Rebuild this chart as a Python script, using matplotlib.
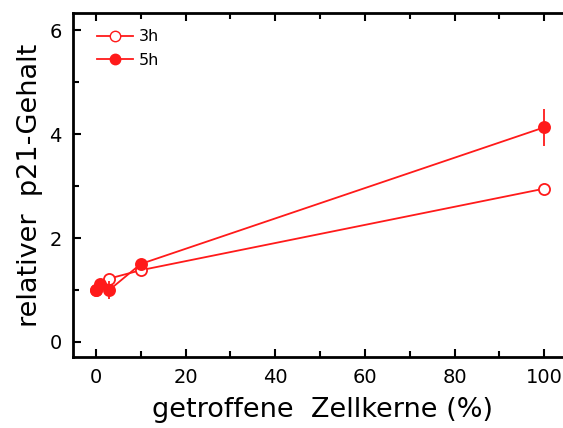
import matplotlib
matplotlib.use("Agg")
import matplotlib.pyplot as plt
from matplotlib.ticker import MultipleLocator
from matplotlib.lines import Line2D

x3 = [0, 3, 10, 100]
y3 = [1.0, 1.22, 1.38, 2.95]
e3 = [0.0, 0.05, 0.04, 0.05]

x5 = [0, 1, 3, 10, 100]
y5 = [1.0, 1.12, 1.0, 1.5, 4.13]
e5 = [0.04, 0.06, 0.18, 0.06, 0.35]

red = "#ff1a1a"
plt.rcParams['font.family'] = ['DejaVu Sans']

fig = plt.figure(figsize=(5.63, 4.28), dpi=100)
ax = fig.add_axes([73/563, 71/428, 500/563, 344/428])

ax.errorbar(x3, y3, yerr=e3, color=red, lw=1.3, marker='o', ms=8,
            mfc='white', mec=red, mew=1.3, elinewidth=1.3, capsize=0, zorder=3)
ax.errorbar(x5, y5, yerr=e5, color=red, lw=1.3, marker='o', ms=8,
            mfc=red, mec=red, mew=1.3, elinewidth=1.3, capsize=0, zorder=4)

ax.set_xlim(-5.1, 106.4)
ax.set_ylim(-0.29, 6.33)
ax.xaxis.set_major_locator(MultipleLocator(20))
ax.xaxis.set_minor_locator(MultipleLocator(10))
ax.yaxis.set_major_locator(MultipleLocator(2))
ax.yaxis.set_minor_locator(MultipleLocator(1))
ax.tick_params(which='both', direction='in', top=True, right=True, width=1.5,
               labelsize=14, pad=8)
ax.tick_params(which='major', length=6)
ax.tick_params(which='minor', length=4)
for s in ax.spines.values():
    s.set_linewidth(2)
ax.spines['right'].set_visible(False)

ax.set_xlabel("getroffene  Zellkerne (%)", fontsize=19.5, labelpad=7)
ax.set_ylabel("relativer  p21-Gehalt", fontsize=19.5, labelpad=5)

h3 = Line2D([], [], color=red, lw=1.3, marker='o', ms=7.5, mfc='white', mec=red)
h5 = Line2D([], [], color=red, lw=1.3, marker='o', ms=7.5, mfc=red, mec=red)
ax.legend([h3, h5], ["3h", "5h"], loc='upper left', frameon=False, fontsize=11.5,
          handlelength=2.2, handletextpad=0.4, bbox_to_anchor=(0.02, 0.995),
          labelspacing=0.55)

fig.savefig("out.png", dpi=100)
